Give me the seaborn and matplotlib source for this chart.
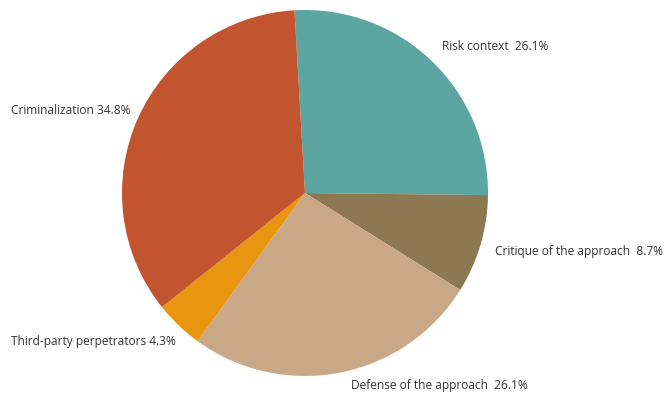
import matplotlib
matplotlib.use("Agg")
import matplotlib.pyplot as plt
import seaborn as sns

categories = ["Risk context", "Critique of the approach", "Defense of the approach",
              "Third-party perpetrators", "Criminalization"]
shares = [26.1, 8.7, 26.1, 4.3, 34.8]
label_texts = ["Risk context  26.1%", "Critique of the approach  8.7%",
               "Defense of the approach  26.1%", "Third-party perpetrators 4.3%",
               "Criminalization 34.8%"]
colors = ["#5DA5A1", "#8C7852", "#C9A887", "#E8960F", "#C25430"]

sns.set_theme(style="white")
plt.rcParams["font.family"] = ["Open Sans", "DejaVu Sans"]

W, H, dpi = 667, 399, 100
fig = plt.figure(figsize=(W / dpi, H / dpi), dpi=dpi)
ax = fig.add_axes([0, 0, 1, 1])

R = 183.0          # pie radius in pixels
cx, cy = 305.0, 193.0

ax.pie(shares, colors=colors, startangle=93.3, counterclock=False,
       radius=1.0, center=(0, 0), wedgeprops=dict(linewidth=0))

ax.set_xlim(-cx / R, (W - cx) / R)
ax.set_ylim(-(H - cy) / R, cy / R)
ax.set_aspect("equal")
ax.axis("off")

# label anchors (pixel space -> data space)
label_pos = [(442, 46), (495, 252), (351, 385), (11, 341), (11, 111)]
for txt, (px, py) in zip(label_texts, label_pos):
    ax.text((px - cx) / R, (cy - py) / R, txt, ha="left", va="center",
            fontsize=8.6, color="#333333")

fig.savefig("out.png", dpi=dpi)
